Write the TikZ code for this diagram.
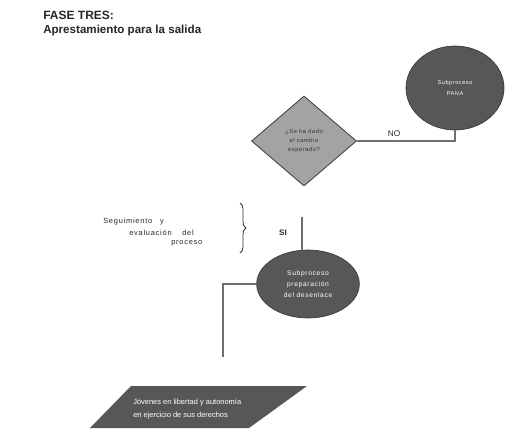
\documentclass[tikz,border=0pt]{standalone}
\usepackage{fontspec}
\setmainfont{Liberation Sans}
\newfontfamily\spacedsans[LetterSpace=10]{Liberation Sans}
\usetikzlibrary{shapes.geometric,decorations.pathreplacing}
\definecolor{darkfill}{HTML}{575757}
\definecolor{lightfill}{HTML}{A3A3A3}
\definecolor{edgegray}{HTML}{3A3A3A}
\definecolor{linegray}{HTML}{707070}
\tikzset{
  px/.style={x=0.75pt,y=-0.75pt},
  darkshape/.style={draw=edgegray,line width=0.5pt,fill=darkfill,text=white,align=center,inner sep=0pt},
  decision/.style={diamond,draw=edgegray,line width=0.6pt,fill=lightfill,text=black!80,align=center,inner sep=0pt,minimum width=78.75pt,minimum height=67.5pt},
  conn/.style={draw=linegray,line width=0.8pt},
  lbl/.style={inner sep=0pt,text=black!85},
}
\begin{document}
\begin{tikzpicture}[px]
\useasboundingbox (0,0) rectangle (531,446);
% title
\node[lbl,anchor=west,font=\bfseries\fontsize{9}{11}\selectfont] (t1) at (43,15) {FASE TRES:};
\node[lbl,anchor=west,font=\bfseries\fontsize{8.7}{10}\selectfont] (t2) at (43,31) {Aprestamiento para la salida};
% PANA circle
\node[darkshape,ellipse,minimum width=73.5pt,minimum height=63pt,font=\spacedsans\fontsize{4.2}{8}\selectfont] (pana) at (455,88) {Subproceso\\PANA};
% decision
\node[decision,font=\spacedsans\fontsize{4.3}{6.8}\selectfont] (dia) at (304,141) {¿Se ha dado\\el cambio\\esperado?};
\draw[conn] (pana.south) |- (dia.east);
\node[lbl,font=\fontsize{6.2}{7}\selectfont] (no) at (394,134) {NO};
% subprocess ellipse
\node[darkshape,ellipse,minimum width=77pt,minimum height=51pt,font=\spacedsans\fontsize{5}{8}\selectfont] (des) at (308,284) {Subproceso\\preparación\\del desenlace};
\coordinate (siTop) at (302,217);
\draw[conn] (siTop) -- (des.north -| siTop);
\node[lbl,font=\bfseries\fontsize{6}{7}\selectfont] (si) at (283,233) {SI};
% brace and side text
\coordinate (brTop) at (240,203);
\coordinate (brBot) at (240,253);
\draw[line width=0.6pt,black!80,decorate,decoration={brace,amplitude=4.5pt}] (brTop) -- (brBot);
\node[lbl,anchor=west,font=\spacedsans\fontsize{5.6}{7}\selectfont] (s1) at (103,222) {Seguimiento\hspace{6pt}y};
\node[lbl,anchor=west,font=\spacedsans\fontsize{5.6}{7}\selectfont] (s2) at (129,233) {evaluación\hspace{8pt}del};
\node[lbl,anchor=west,font=\spacedsans\fontsize{5.6}{7}\selectfont] (s3) at (171,243) {proceso};
% connector to bottom
\coordinate (bend) at (223,284);
\coordinate (downEnd) at (223,357);
\draw[conn] (des.west) -- (bend) -- (downEnd);
% output parallelogram
\fill[darkfill] (131,386) -- (307,386) -- (249,428) -- (90,428) -- cycle;
\node[lbl,anchor=north west,text=white,align=left,font=\fontsize{5.6}{9.5}\selectfont] (out) at (133,399) {Jóvenes en libertad y autonomía\\en ejercicio de sus derechos};
\end{tikzpicture}
\end{document}
